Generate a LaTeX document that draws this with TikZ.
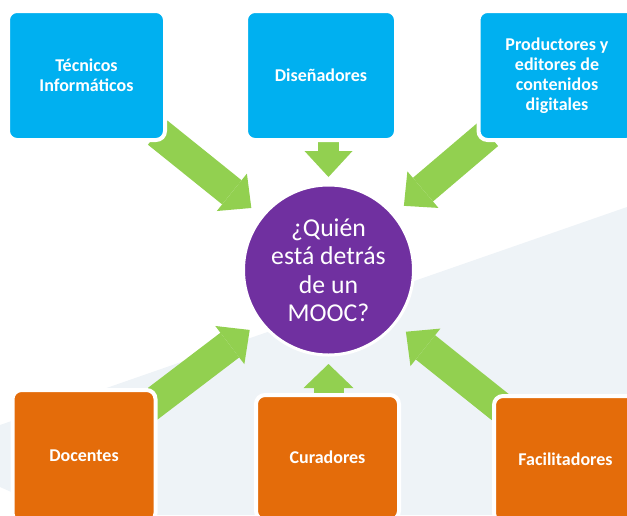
\documentclass[tikz,border=0pt]{standalone}
\usepackage{fontspec}
\setmainfont{Carlito}
\usetikzlibrary{arrows.meta,calc}
\definecolor{moocblue}{HTML}{00B0F0}
\definecolor{moocorange}{HTML}{E46C0A}
\definecolor{moocpurple}{HTML}{7030A0}
\definecolor{moocgreen}{HTML}{92D050}
\definecolor{moocpale}{HTML}{EEF3F7}
\pgfdeclarelayer{paper}
\pgfdeclarelayer{links}
\pgfsetlayers{paper,links,main}
\tikzset{
    role box/.style={
        rectangle, rounded corners=9pt,
        draw=white, line width=4pt,
        text=white, align=center, inner sep=2pt,
        font=\fontsize{18}{20}\selectfont\bfseries
    },
    top role/.style={role box, fill=moocblue, minimum height=129pt},
    bottom role/.style={role box, fill=moocorange, minimum width=143pt},
    question/.style={
        circle, fill=moocpurple, draw=white, line width=3pt,
        minimum size=170pt, inner sep=0pt,
        text=white, align=center,
        font=\fontsize{25.7}{28.5}\selectfont
    },
    block arrow/.style={
        draw=moocgreen, line width=31pt,
        -{Triangle[width=48pt,length=25pt,line width=0pt]},
        shorten <=-12pt, shorten >=12.5pt
    },
    short arrow/.style={
        draw=moocgreen,
        shorten <=-3pt
    }
}

\begin{document}
\begin{tikzpicture}[x=1pt, y=-1pt]
    \useasboundingbox (0,0) rectangle (627,515);

    % ---- the people behind
    \node[top role, minimum width=157pt] (tec) at (86.5,75.5) {Técnicos\\Informáticos};
    \node[top role, minimum width=150pt] (dis) at (321,75.5) {Diseñadores};
    \node[top role, minimum width=157pt] (pro) at (557,75.5) {Productores y\\editores de\\contenidos\\digitales};
    \node[bottom role, minimum height=132pt] (doc) at (84,456) {Docentes};
    \node[bottom role, minimum height=125pt] (cur) at (327.5,457.5) {Curadores};
    \node[bottom role, minimum height=126pt] (fac) at (565.5,459) {Facilitadores};

    \node[question] (q) at (328.5,270) {¿Quién\\está detrás\\de un\\MOOC?};

    \begin{pgfonlayer}{paper}
    \fill[moocpale] (0,425) -- (627,207) -- (627,515) -- (63,515) -- (0,487) -- cycle;
    \end{pgfonlayer}

    \begin{pgfonlayer}{links}
    \draw[block arrow] (tec) -- (q);
    \draw[block arrow] (pro) -- (q);
    \draw[block arrow] (doc) -- (q);
    \draw[block arrow] (fac) -- (q);
    \draw[short arrow, line width=21pt, shorten >=6.5pt,
        -{Triangle[width=48pt,length=26pt,line width=0pt]}] (q |- dis.south) -- (q.north);
    \draw[short arrow, line width=30pt, shorten >=7.5pt,
        -{Triangle[width=50pt,length=24pt,line width=0pt]}] (q |- cur.north) -- (q.south);
    \end{pgfonlayer}
\end{tikzpicture}
\end{document}
